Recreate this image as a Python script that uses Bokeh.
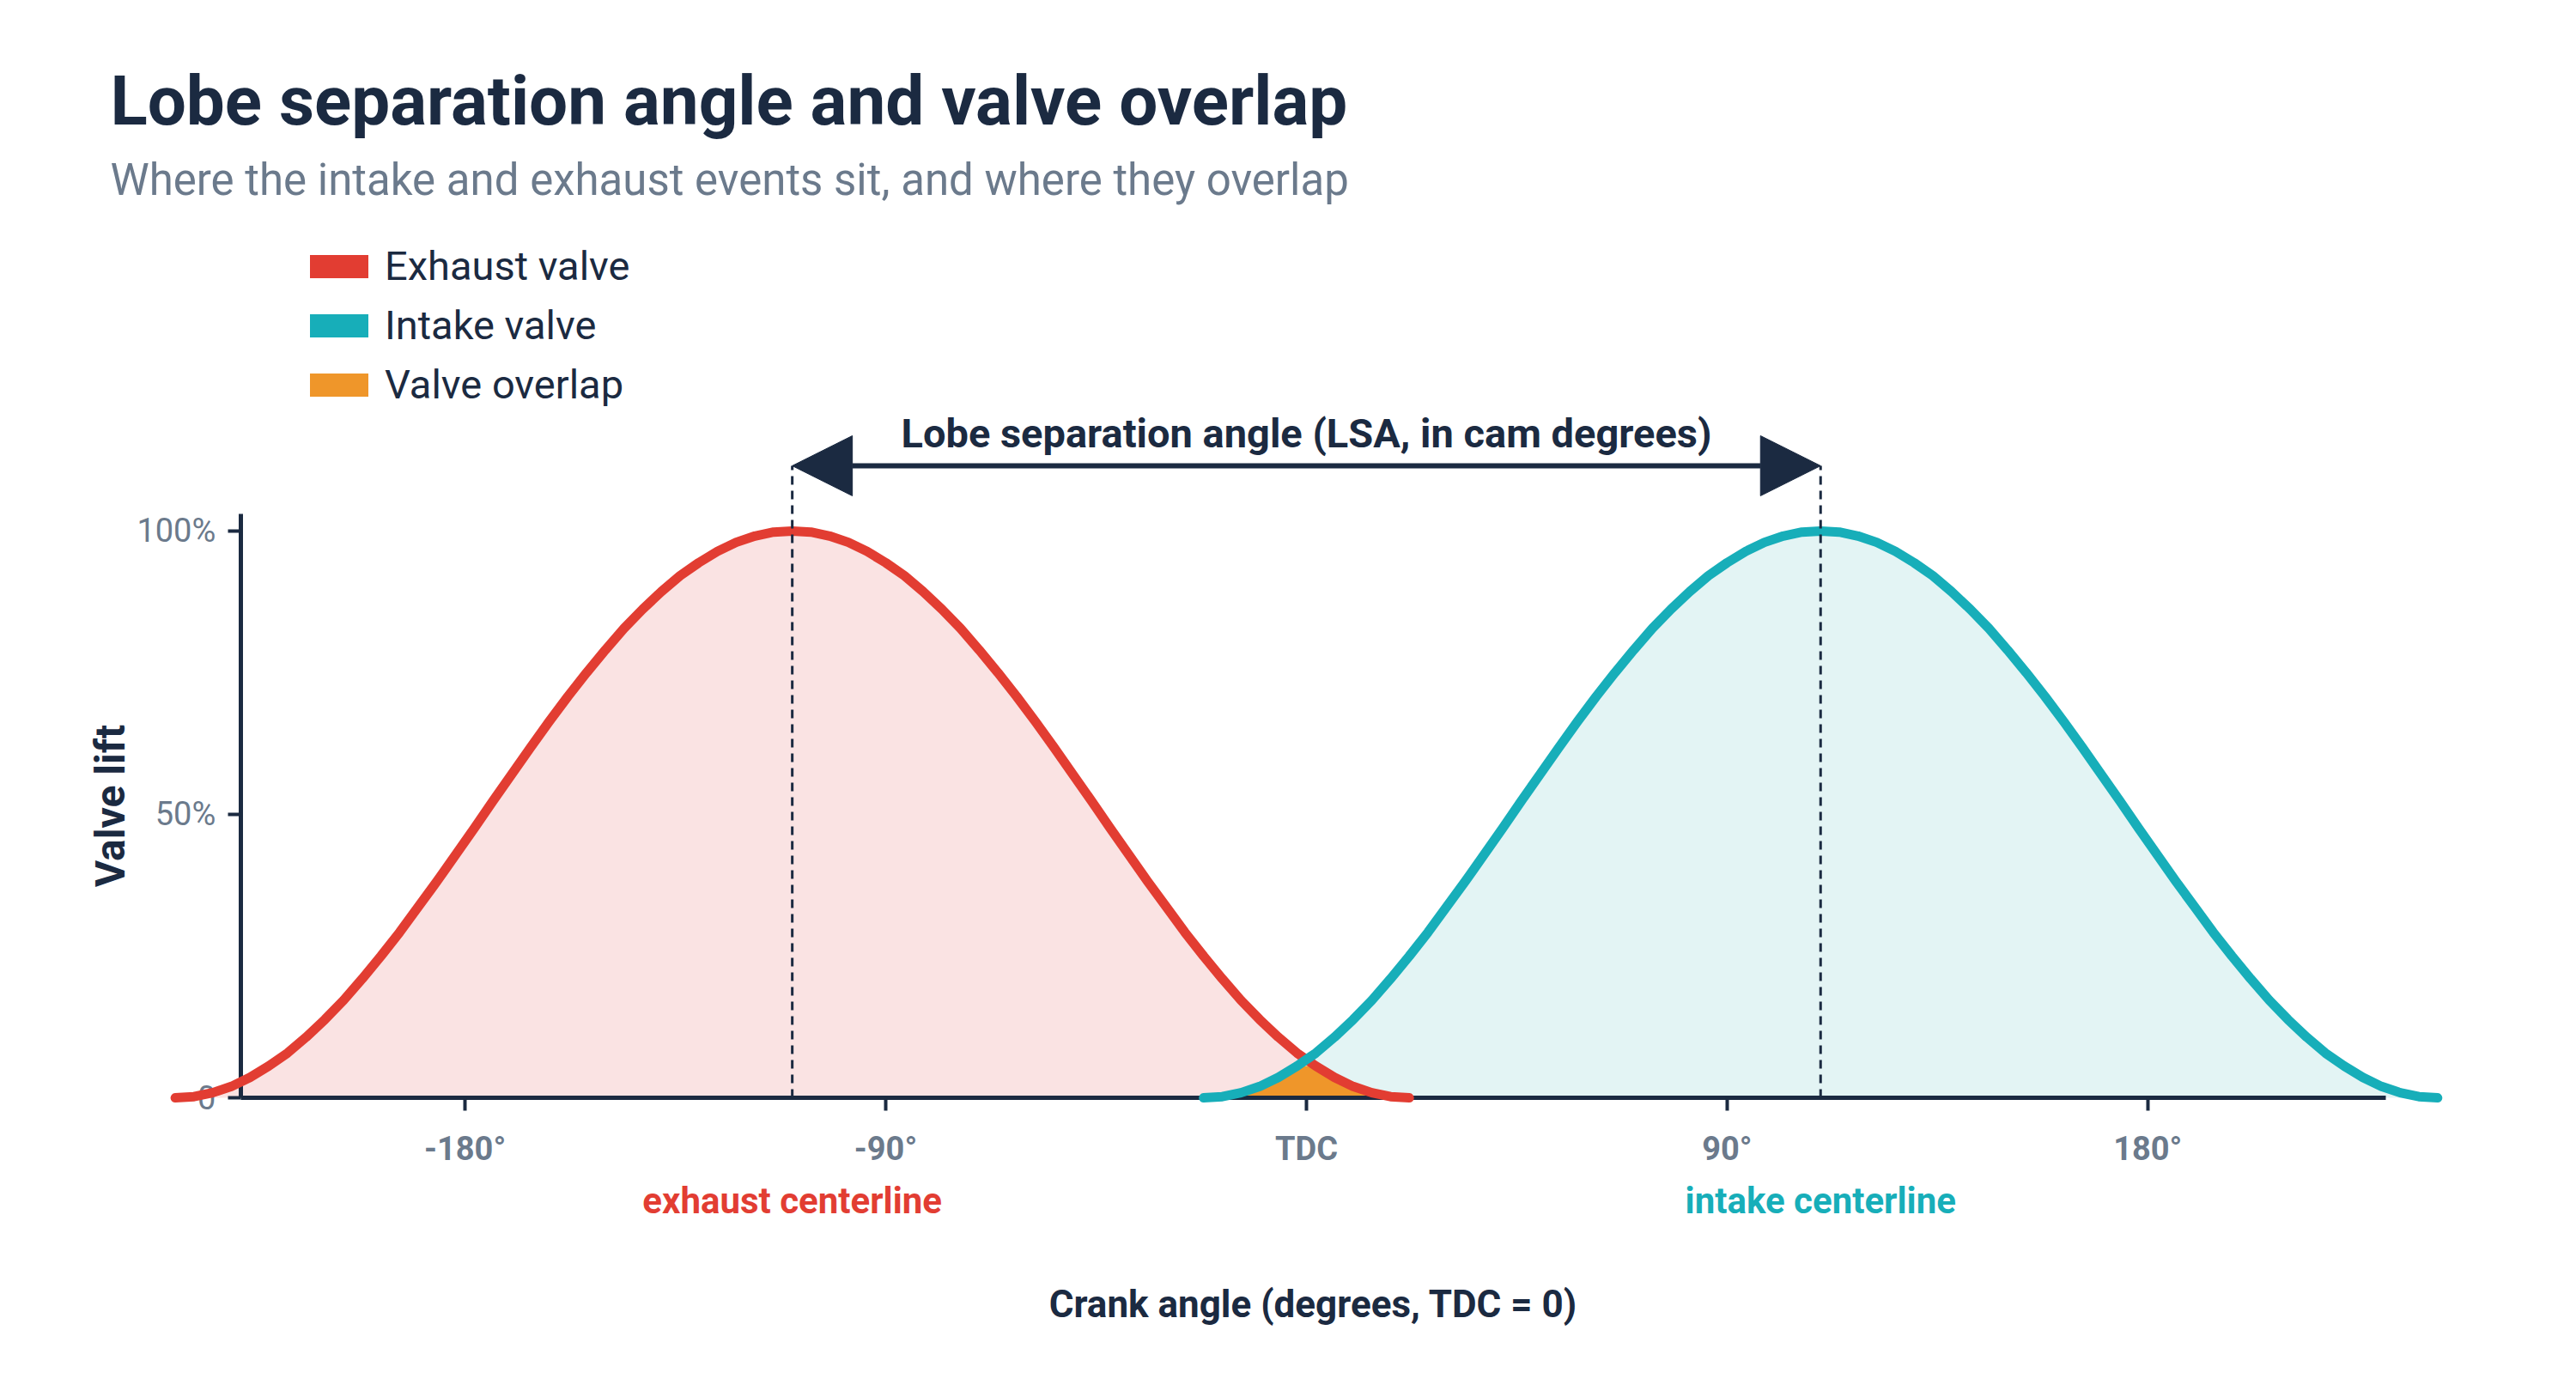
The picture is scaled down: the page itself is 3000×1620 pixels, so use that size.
from bokeh.plotting import figure
from bokeh.models import (Range1d, LinearAxis, FixedTicker, Label, Arrow, NormalHead,
                          Legend, LegendItem)
from bokeh.embed import file_html
from bokeh.resources import INLINE
import numpy as np

# ---------------- data ----------------
TITLE = "Lobe separation angle and valve overlap"
SUBTITLE = "Where the intake and exhaust events sit, and where they overlap"
X_LABEL = "Crank angle (degrees, TDC = 0)"
Y_LABEL = "Valve lift"
LSA_LABEL = "Lobe separation angle (LSA, in cam degrees)"

SERIES = ["Exhaust valve", "Intake valve", "Valve overlap"]
CENTER_LABELS = ["exhaust centerline", "intake centerline"]

EXHAUST_CENTER = -110   # crank degrees
INTAKE_CENTER = 110

# lift profile (degrees away from the lobe centerline -> lift %)
PROFILE_OFFSET = [0, 4, 8, 12, 16, 20, 24, 28, 32, 36, 40, 44, 48, 52, 56, 60, 64,
                  68, 72, 76, 80, 84, 88, 92, 96, 100, 104, 108, 112, 116, 120, 124, 128, 132]
PROFILE_LIFT = [100, 99.8, 99.1, 98.0, 96.4, 94.4, 92.1, 89.3, 86.2, 82.8, 79.0, 75.0,
                70.8, 66.4, 61.8, 57.1, 52.4, 47.6, 42.9, 38.2, 33.7, 29.2, 25.0, 21.0,
                17.2, 13.8, 10.7, 7.9, 5.6, 3.6, 2.0, 0.9, 0.2, 0.0]

X_TICKS = [-180, -90, 0, 90, 180]
X_TICK_LABELS = ["-180°", "-90°", "TDC", "90°", "180°"]
Y_TICKS = [0, 50, 100]
Y_TICK_LABELS = ["0", "50%", "100%"]

# ---------------- styling ----------------
NAVY = "#1b2a41"
GRAY = "#6b7a8c"
RED = "#e23d32"
TEAL = "#17aeb9"
ORANGE = "#ef962a"
RED_FILL = "#fae3e3"
TEAL_FILL = "#e3f4f4"
FONT = "Roboto"

# build curves from the profile
off = np.array(PROFILE_OFFSET, dtype=float)
lift = np.array(PROFILE_LIFT, dtype=float)
full_off = np.concatenate([-off[::-1], off[1:]])
full_lift = np.concatenate([lift[::-1], lift[1:]])
exh_x = EXHAUST_CENTER + full_off
int_x = INTAKE_CENTER + full_off
exh_y = full_lift
int_y = full_lift

ov_x = exh_x[(exh_x >= int_x.min()) & (exh_x <= exh_x.max())]
ov_y = np.minimum(np.interp(ov_x, exh_x, exh_y), np.interp(ov_x, int_x, int_y))

W, H = 3000, 1620
p = figure(width=W, height=H, output_backend="svg", toolbar_location=None,
           x_range=Range1d(-279.4, 271.7), y_range=Range1d(-51.8, 193.6),
           x_axis_type=None, y_axis_type=None, min_border=0,
           min_border_left=0, min_border_right=0, min_border_top=0, min_border_bottom=0)
p.outline_line_color = None
p.background_fill_color = "white"
p.border_fill_color = "white"
p.xgrid.visible = False
p.ygrid.visible = False

# fills
p.varea(x=exh_x, y1=0, y2=exh_y, fill_color=RED_FILL)
p.varea(x=int_x, y1=0, y2=int_y, fill_color=TEAL_FILL)
p.varea(x=ov_x, y1=0, y2=ov_y, fill_color=ORANGE)

# axes
xaxis = LinearAxis(fixed_location=0, bounds=(-228, 231),
                   ticker=FixedTicker(ticks=X_TICKS),
                   major_label_overrides={t: l for t, l in zip(X_TICKS, X_TICK_LABELS)})
yaxis = LinearAxis(fixed_location=-228, bounds=(0, 103),
                   ticker=FixedTicker(ticks=Y_TICKS),
                   major_label_overrides={t: l for t, l in zip(Y_TICKS, Y_TICK_LABELS)})
for ax in (xaxis, yaxis):
    ax.axis_line_color = NAVY
    ax.axis_line_width = 5
    ax.major_tick_line_color = NAVY
    ax.major_tick_line_width = 4
    ax.major_tick_in = 0
    ax.major_tick_out = 15
    ax.minor_tick_line_color = None
    ax.major_label_text_color = GRAY
    ax.major_label_text_font = FONT
    ax.axis_label_text_color = NAVY
    ax.axis_label_text_font = FONT
    ax.axis_label_text_font_style = "bold"
xaxis.major_label_text_font_size = "38px"
xaxis.major_label_text_font_style = "bold"
xaxis.major_label_standoff = 22
xaxis.axis_label = X_LABEL
xaxis.axis_label_text_font_size = "44px"
xaxis.axis_label_standoff = 130
yaxis.major_label_text_font_size = "38px"
yaxis.major_label_standoff = 14
yaxis.axis_label = Y_LABEL
yaxis.axis_label_text_font_size = "48px"
yaxis.axis_label_standoff = 0
p.add_layout(xaxis, "below")
p.add_layout(yaxis, "left")

# curves above axes
r_exh = p.line(exh_x, exh_y, line_color=RED, line_width=11, line_cap="round",
               line_join="round", level="overlay")
r_int = p.line(int_x, int_y, line_color=TEAL, line_width=11, line_cap="round",
               line_join="round", level="overlay")

# centerlines + LSA arrow
ARROW_Y = 111.5
centers = [EXHAUST_CENTER, INTAKE_CENTER]
p.segment(x0=centers, y0=[0, 0], x1=centers, y1=[ARROW_Y, ARROW_Y],
          line_color=NAVY, line_width=3, line_dash="10 7", level="overlay")
head = dict(size=70, fill_color=NAVY, line_color=NAVY, line_width=1)
p.add_layout(Arrow(start=NormalHead(**head), end=NormalHead(**head),
                   x_start=EXHAUST_CENTER, y_start=ARROW_Y,
                   x_end=INTAKE_CENTER, y_end=ARROW_Y,
                   line_color=NAVY, line_width=6))
p.add_layout(Label(x=(EXHAUST_CENTER + INTAKE_CENTER) / 2, y=117.3, text=LSA_LABEL,
                   text_align="center", text_baseline="alphabetic",
                   text_font=FONT, text_font_style="bold", text_font_size="47px",
                   text_color=NAVY))

for cx, txt, col in zip(centers, CENTER_LABELS, [RED, TEAL]):
    p.add_layout(Label(x=cx, y=-18.2, text=txt, text_align="center",
                       text_baseline="alphabetic", text_font=FONT,
                       text_font_style="bold", text_font_size="42px", text_color=col))

# title & subtitle
p.add_layout(Label(x=-255.9, y=175.8, text=TITLE, text_align="left",
                   text_baseline="alphabetic", text_font=FONT, text_font_style="bold",
                   text_font_size="80px", text_color=NAVY))
p.add_layout(Label(x=-255.9, y=161.9, text=SUBTITLE, text_align="left",
                   text_baseline="alphabetic", text_font=FONT,
                   text_font_size="51px", text_color=GRAY))

# legend (swatches: glyphs with no visible data on the plot)
sw = []
for col in (RED, TEAL, ORANGE):
    sw.append(p.quad(left=[np.nan], right=[np.nan], top=[np.nan], bottom=[np.nan],
                     fill_color=col, line_color=None))
legend = Legend(items=[LegendItem(label=s, renderers=[r]) for s, r in zip(SERIES, sw)],
                location=(352, 1145), orientation="vertical",
                glyph_width=85, glyph_height=34, label_height=34, spacing=14,
                label_standoff=11, padding=0, margin=0,
                border_line_color=None, background_fill_alpha=0,
                label_text_font=FONT, label_text_font_size="47px",
                label_text_color=NAVY)
p.add_layout(legend)

open("out.html", "w").write(file_html(p, INLINE))
